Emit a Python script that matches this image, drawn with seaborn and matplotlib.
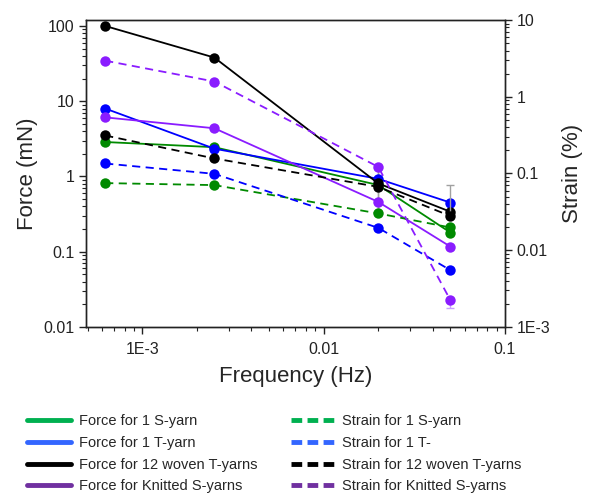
import numpy as np
import pandas as pd
import matplotlib
matplotlib.use("Agg")
import matplotlib.pyplot as plt
from matplotlib.lines import Line2D
from matplotlib.ticker import LogLocator, FixedLocator, FixedFormatter, NullFormatter
import seaborn as sns

# ---- data ----
freq = [0.000625, 0.0025, 0.02, 0.05]

force_1S = [2.87, 2.45, 0.77, 0.18]
force_1T = [8.0, 2.34, 0.93, 0.45]
force_12T = [100.0, 38.0, 0.81, 0.34]
force_knit = [6.1, 4.37, 0.46, 0.117]

strain_1S = [0.075, 0.0706, 0.0302, 0.0198]
strain_1T = [0.135, 0.099, 0.0196, 0.0055]
strain_12T = [0.313, 0.157, 0.067, 0.0279]
strain_knit = [2.95, 1.58, 0.122, 0.00224]

# large grey error bars at the last frequency (strain axis)
err_strain_12T_upper = [0.0, 0.0, 0.0, 0.042]
err_strain_knit_lower = [0.0, 0.0, 0.0, 0.00048]

x_ticks = [0.001, 0.01, 0.1]
x_labels = ["1E-3", "0.01", "0.1"]
yl_ticks = [0.01, 0.1, 1, 10, 100]
yl_labels = ["0.01", "0.1", "1", "10", "100"]
yr_ticks = [0.001, 0.01, 0.1, 1, 10]
yr_labels = ["1E-3", "0.01", "0.1", "1", "10"]

legend_labels = ["Force for 1 S-yarn", "Force for 1 T-yarn", "Force for 12 woven T-yarns",
                 "Force for Knitted S-yarns", "Strain for 1 S-yarn", "Strain for 1 T-",
                 "Strain for 12 woven T-yarns", "Strain for Knitted S-yarns"]

# ---- style ----
sns.set_style("ticks")
plt.rcParams["font.family"] = ["Liberation Sans", "DejaVu Sans"]

c_green, c_blue, c_black, c_purple = "#008a00", "#0000ff", "#000000", "#8a1cff"
lg_green, lg_blue, lg_black, lg_purple = "#00b050", "#3366ff", "#000000", "#7030a0"

fig = plt.figure(figsize=(5.92, 5.0), dpi=100)
ax = fig.add_axes([0.1453, 0.346, 0.7077, 0.614])
ax2 = ax.twinx()

force = [(force_1S, c_green), (force_1T, c_blue), (force_12T, c_black), (force_knit, c_purple)]
strain = [(strain_1S, c_green), (strain_1T, c_blue), (strain_12T, c_black), (strain_knit, c_purple)]

# grey error bars
f = np.array(freq)
ax2.errorbar(f, strain_12T, yerr=[np.zeros(4), err_strain_12T_upper], fmt="none",
             ecolor="#a0a0a0", elinewidth=1.0, capsize=3, zorder=1)
ax2.errorbar(f, strain_knit, yerr=[err_strain_knit_lower, np.zeros(4)], fmt="none",
             ecolor="#c8a0ff", elinewidth=1.0, capsize=3, zorder=1)
ax.errorbar([0.02, 0.02], [0.93, 0.93], yerr=[[0.55, 0.55], [0.25, 0.25]], fmt="none",
            ecolor="#a0a0a0", elinewidth=1.0, capsize=0, zorder=1)

for vals, col in force:
    sns.lineplot(x=freq, y=vals, ax=ax, color=col, marker="o", markersize=7.5,
                 markeredgewidth=0, linewidth=1.3, legend=False, zorder=3)
for vals, col in strain:
    sns.lineplot(x=freq, y=vals, ax=ax2, color=col, marker="o", markersize=7.5,
                 markeredgewidth=0, linewidth=1.3, linestyle=(0, (4.5, 3)),
                 legend=False, zorder=3)

ax.set_xscale("log")
ax.set_yscale("log")
ax2.set_yscale("log")
ax.set_xlim(4.9e-4, 0.1)
ax.set_ylim(0.01, 120)
ax2.set_ylim(0.001, 10)

ax.xaxis.set_major_locator(FixedLocator(x_ticks))
ax.xaxis.set_major_formatter(FixedFormatter(x_labels))
ax.xaxis.set_minor_locator(LogLocator(base=10, subs=np.arange(2, 10)))
ax.xaxis.set_minor_formatter(NullFormatter())
ax.yaxis.set_major_locator(FixedLocator(yl_ticks))
ax.yaxis.set_major_formatter(FixedFormatter(yl_labels))
ax.yaxis.set_minor_locator(LogLocator(base=10, subs=np.arange(2, 10)))
ax.yaxis.set_minor_formatter(NullFormatter())
ax2.yaxis.set_major_locator(FixedLocator(yr_ticks))
ax2.yaxis.set_major_formatter(FixedFormatter(yr_labels))
ax2.yaxis.set_minor_locator(LogLocator(base=10, subs=np.arange(2, 10)))
ax2.yaxis.set_minor_formatter(NullFormatter())

for a in (ax, ax2):
    for s in a.spines.values():
        s.set_visible(True)
        s.set_color("#222222")
        s.set_linewidth(1.0)
    a.tick_params(which="major", length=5, width=1.0, labelsize=11.5, colors="#222222")
    a.tick_params(which="minor", length=3, width=0.8, colors="#222222")
ax.tick_params(axis="x", pad=6)

ax.set_xlabel("Frequency (Hz)", fontsize=16, labelpad=6)
ax.set_ylabel("Force (mN)", fontsize=16, labelpad=4)
ax2.set_ylabel("Strain (%)", fontsize=16, labelpad=8)

handles = [Line2D([], [], color=c, lw=3.5) for c in (lg_green, lg_blue, lg_black, lg_purple)]
handles += [Line2D([], [], color=c, lw=3.5, linestyle=(0, (2.2, 1.1)))
            for c in (lg_green, lg_blue, lg_black, lg_purple)]
fig.legend(handles, legend_labels, loc="upper left", bbox_to_anchor=(0.034, 0.186),
           ncol=2, frameon=False, fontsize=10.5, handlelength=3.0, handletextpad=0.55,
           columnspacing=2.25, labelspacing=0.53, borderpad=0)

fig.savefig("out.png", dpi=100)
